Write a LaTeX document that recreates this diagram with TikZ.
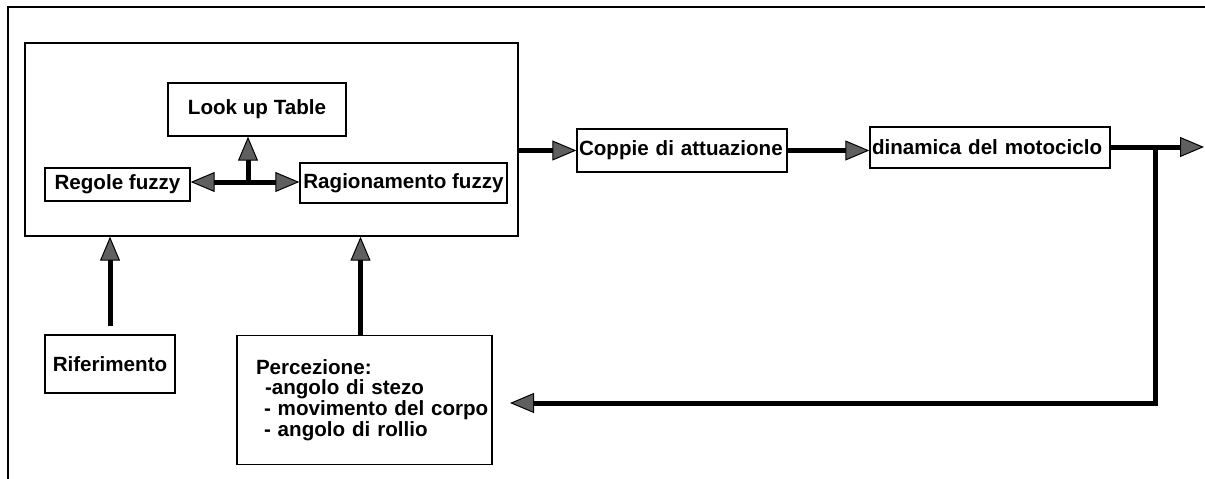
\documentclass[tikz,border=0pt]{standalone}
\usepackage{fontspec}
\setmainfont{Liberation Sans}
\usetikzlibrary{arrows.meta}
\definecolor{tipgray}{RGB}{95,95,95}
\begin{document}
\begin{tikzpicture}[x=1pt,y=-1pt,
  box/.style={draw, line width=1.4pt, inner sep=0pt, align=center,
    font=\bfseries\fontsize{20.6}{20.7}\selectfont},
  flow/.style={line width=5pt, -{Triangle[length=24pt,width=20pt,line width=1pt,fill=tipgray]}},
  twoway/.style={line width=5pt, {Triangle[length=24pt,width=20pt,line width=1pt,fill=tipgray]}-{Triangle[length=24pt,width=20pt,line width=1pt,fill=tipgray]}}
]
\useasboundingbox (0,0) rectangle (1205,479);

% outer frame (top and left edges)
\draw[line width=1.5pt] (1205,7) -- (8,7) -- (8,479);

% fuzzy controller block
\node[box, minimum width=493pt, minimum height=193pt] (big) at (271.5,139.5) {};
\node[box, minimum width=178pt, minimum height=53pt] (look) at (257,109.5) {Look up Table};
\node[box, minimum width=145pt, minimum height=33pt] (reg) at (117.5,184.5) {Regole fuzzy};
\node[box, minimum width=207pt, minimum height=40pt] (rag) at (403.5,183) {Ragionamento fuzzy};

% plant chain
\node[box, text width=206pt, inner xsep=2pt, align=left, minimum height=43pt] (cop) at (682,150.5) {Coppie di attuazione};
\node[box, text width=236pt, inner xsep=2pt, align=left, minimum height=41pt] (din) at (990,147.5) {dinamica del motociclo};

% inputs
\node[box, minimum width=130pt, minimum height=58pt] (rif) at (110,364) {Riferimento};
\node[box, text width=251pt, inner xsep=2pt, align=left, minimum height=129pt] (perc) at (364.5,400)
  {\hspace*{17pt}Percezione:\\\hspace*{26pt}-angolo di stezo\\\hspace*{25pt}- movimento del corpo\\\hspace*{25pt}- angolo di rollio};

% internal connections
\coordinate (j) at (248,182);
\draw[twoway] (reg.east |- j) -- (rag.west |- j);
\draw[flow] (j) -- (j |- look.south);

% forward path
\draw[flow] (big.east |- cop.west) -- (cop.west);
\draw[flow] (cop.east) -- (cop.east -| din.west);
\coordinate (out) at (1204,147);
\coordinate (br) at (1155,147);
\draw[flow] (din.east |- out) -- (out);

% feedback
\coordinate (fb) at (510,403);
\draw[flow] (br) -- (br |- fb) -- (fb);

% inputs to controller
\draw[flow] ([yshift=8pt]rif.north) -- (rif.north |- big.south);
\draw[flow] ([xshift=-4pt]perc.north) -- ([xshift=-4pt]perc.north |- big.south);
\end{tikzpicture}
\end{document}
